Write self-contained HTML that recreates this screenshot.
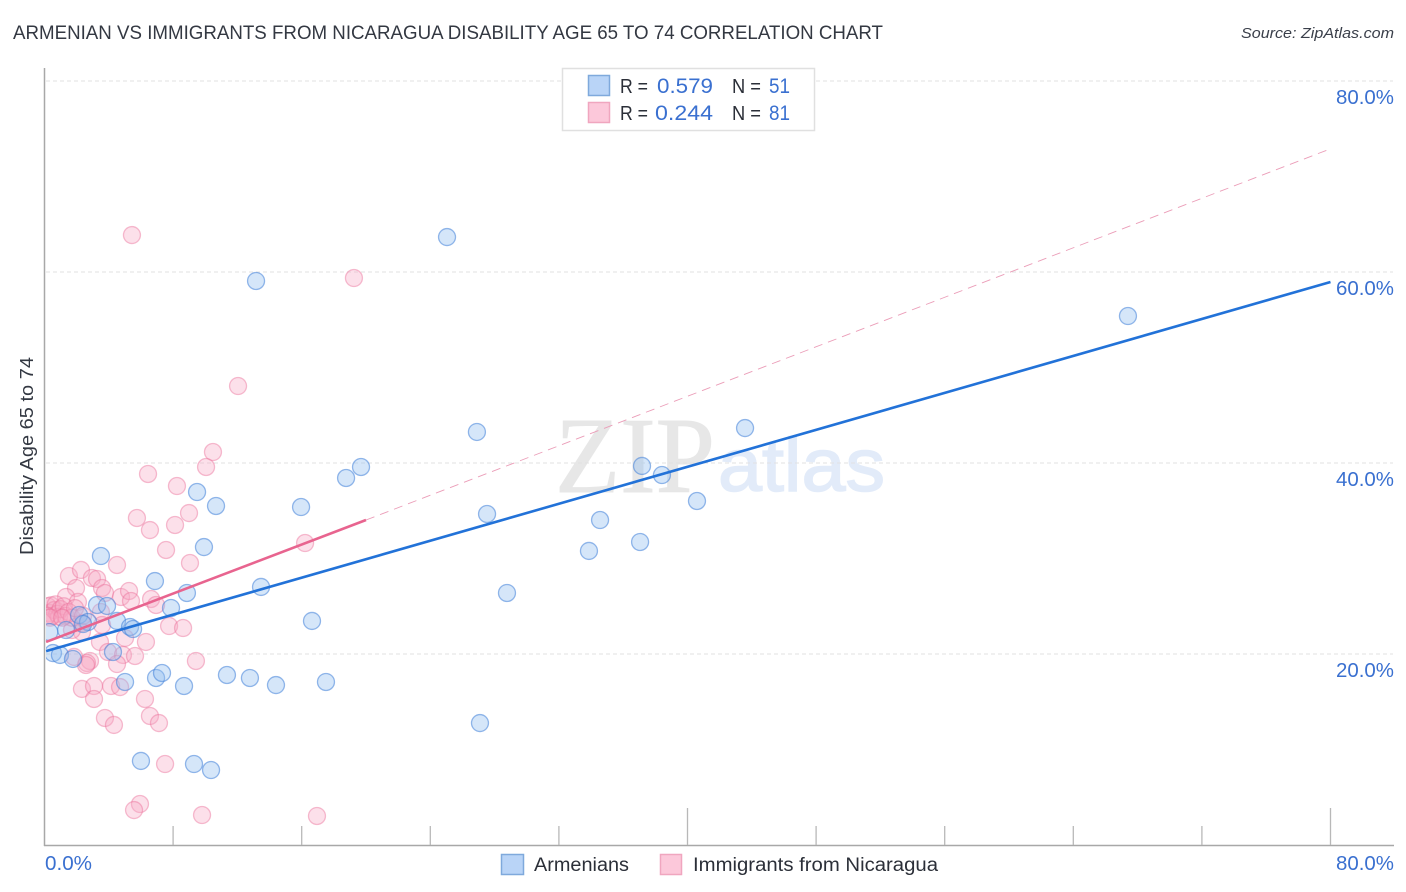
<!DOCTYPE html>
<html lang="en">
<head>
<meta charset="utf-8">
<title>Armenian vs Immigrants from Nicaragua Disability Age 65 to 74 Correlation Chart</title>
<style>
html,body{margin:0;padding:0;background:#fff;width:1406px;height:892px;overflow:hidden}
svg{display:block}
text{font-family:"Liberation Sans",sans-serif}
</style>
</head>
<body>
<svg id="chart" width="1406" height="892" viewBox="0 0 1406 892" xmlns="http://www.w3.org/2000/svg">
  <defs><clipPath id="plot-clip"><rect x="46" y="60" width="1350" height="785"/></clipPath></defs>
  <text x="13" y="39" font-size="19" fill="#333842" textLength="870" lengthAdjust="spacingAndGlyphs">ARMENIAN VS IMMIGRANTS FROM NICARAGUA DISABILITY AGE 65 TO 74 CORRELATION CHART</text>
  <text x="1241" y="38" font-size="15" font-style="italic" fill="#3a3f4a" textLength="153" lengthAdjust="spacingAndGlyphs">Source: ZipAtlas.com</text>
  <text x="555" y="492" font-size="108" fill="#e7e7e7" stroke="#e7e7e7" stroke-width="1" textLength="160" lengthAdjust="spacingAndGlyphs" style="font-family:'Liberation Serif',serif">ZIP</text>
  <text x="718" y="491" font-size="75" fill="#e2ebf9" stroke="#e2ebf9" stroke-width="1.5" textLength="167" lengthAdjust="spacingAndGlyphs" style="font-family:'Liberation Sans',sans-serif">atlas</text>
  <g id="grid"></g>
  <g id="axes"></g>
  <g id="points" clip-path="url(#plot-clip)"></g>
  <g id="trends"></g>
  <text transform="translate(33,456) rotate(-90)" text-anchor="middle" font-size="18.5" fill="#333842" textLength="198" lengthAdjust="spacingAndGlyphs">Disability Age 65 to 74</text>
  <g>
    <rect x="562.5" y="68.5" width="252" height="62" fill="#fff" stroke="#e0e0e0" stroke-width="1.5"/>
    <rect x="588.5" y="75.5" width="21" height="20" fill="#b9d4f7" stroke="#7fa9dc" stroke-width="1.5"/>
    <text x="620" y="93" font-size="20" fill="#2b2f38" textLength="28" lengthAdjust="spacingAndGlyphs">R =</text>
    <text x="657" y="93" font-size="21" fill="#3a70d0" textLength="56" lengthAdjust="spacingAndGlyphs">0.579</text>
    <text x="732" y="93" font-size="20" fill="#2b2f38" textLength="29" lengthAdjust="spacingAndGlyphs">N =</text>
    <text x="769" y="93" font-size="21" fill="#3a70d0" textLength="21" lengthAdjust="spacingAndGlyphs">51</text>
    <rect x="588.5" y="102.5" width="21" height="20" fill="#fcc8da" stroke="#f0a6bf" stroke-width="1.5"/>
    <text x="620" y="120" font-size="20" fill="#2b2f38" textLength="28" lengthAdjust="spacingAndGlyphs">R =</text>
    <text x="655" y="120" font-size="21" fill="#3a70d0" textLength="58" lengthAdjust="spacingAndGlyphs">0.244</text>
    <text x="732" y="120" font-size="20" fill="#2b2f38" textLength="29" lengthAdjust="spacingAndGlyphs">N =</text>
    <text x="769" y="120" font-size="21" fill="#3a70d0" textLength="21" lengthAdjust="spacingAndGlyphs">81</text>
  </g>
  <g>
    <rect x="501.5" y="854.5" width="22" height="20" fill="#b9d4f7" stroke="#7fa9dc" stroke-width="1.5"/>
    <text x="534" y="871" font-size="19" fill="#2b2f38" textLength="95" lengthAdjust="spacingAndGlyphs">Armenians</text>
    <rect x="660.5" y="854.5" width="21" height="20" fill="#fcc8da" stroke="#f0a6bf" stroke-width="1.5"/>
    <text x="693" y="871" font-size="19" fill="#2b2f38" textLength="245" lengthAdjust="spacingAndGlyphs">Immigrants from Nicaragua</text>
  </g>
</svg>
<script>
const blueX = [67.40,25.04,13.16,26.90,43.58,37.17,38.41,40.59,19.69,18.76,27.53,34.56,37.05,33.87,28.77,9.49,10.67,15.96,9.92,3.51,6.87,13.47,8.86,7.87,16.64,3.27,3.89,2.15,2.71,2.40,1.34,4.51,5.32,5.51,4.26,0.53,0.96,1.77,5.01,6.94,7.31,8.68,11.35,12.78,14.40,17.51,27.09,6.00,9.30,10.36,0.30];
const blueY = [55.39,63.66,59.06,43.25,43.66,39.69,38.74,36.02,39.58,38.43,34.66,34.03,31.73,30.79,26.39,36.96,35.50,35.39,31.20,30.26,27.64,27.02,26.39,24.82,23.46,25.13,25.03,24.08,23.35,23.14,22.51,23.46,22.83,22.62,20.21,20.10,19.90,19.48,17.07,17.49,18.01,16.65,17.80,17.49,16.75,17.07,12.77,8.80,8.48,7.85,22.30];
const pinkX = [5.44,19.25,12.04,10.48,10.05,6.44,8.24,5.75,6.56,8.12,8.99,7.56,9.05,4.51,16.21,1.52,2.27,2.95,3.27,1.96,3.58,1.34,2.08,3.76,4.76,5.26,5.38,6.63,6.94,3.51,7.75,8.62,6.31,5.01,3.45,3.95,4.88,5.63,4.51,9.42,2.83,2.64,2.58,1.84,2.33,3.08,4.14,4.70,3.08,6.25,6.56,7.12,3.76,4.32,7.50,5.94,5.57,9.80,16.95,2.33,3.58,2.33,1.71,0.20,0.30,0.40,0.50,0.60,0.70,0.80,0.90,1.00,1.20,1.30,1.50,1.70,1.90,0.15,0.35,2.40,1.10];
const pinkY = [63.87,59.37,48.06,41.15,39.58,38.85,37.59,34.24,32.98,33.51,34.76,30.89,29.53,29.32,31.62,28.17,28.80,27.96,27.85,26.91,26.91,25.97,25.45,26.39,25.97,26.60,25.55,25.76,25.13,24.40,22.93,22.72,21.26,21.68,21.26,20.21,19.90,19.79,18.95,19.27,19.27,19.06,18.85,19.69,16.34,16.65,16.65,16.54,15.29,15.29,13.51,12.77,13.30,12.57,8.48,4.29,3.66,3.14,3.04,23.25,23.04,22.30,22.51,25.00,24.30,25.10,24.00,24.60,25.20,24.20,23.90,24.70,25.00,24.00,24.40,23.80,24.80,24.00,23.80,24.00,23.80];
const blueTrendX = [0.1, 80];
const blueTrendY = [20.3, 58.95];
const pinkTrendX = [0.1, 20];
const pinkTrendY = [21.26, 34.03];
const pinkDashX = [20, 80];
const pinkDashY = [34.03, 72.9];
const yTicks = [20, 40, 60, 80];
const yTickLabels = ["20.0%", "40.0%", "60.0%", "80.0%"];
const xTicks = [8, 16, 24, 32, 40, 48, 56, 64, 72, 80];
const xMajorTicks = [40, 80];
const xEndLabels = ["0.0%", "80.0%"];

const NS = "http://www.w3.org/2000/svg";
const xScale = v => 44.5 + v * 16.075;
const yScale = v => 845 - v * 9.55;

function make(tag, attrs, parent) {
  const el = document.createElementNS(NS, tag);
  for (const k in attrs) el.setAttribute(k, attrs[k]);
  parent.appendChild(el);
  return el;
}

const grid = document.getElementById("grid");
const axes = document.getElementById("axes");
const pts = document.getElementById("points");
const trends = document.getElementById("trends");

yTicks.forEach((t, i) => {
  const line = make("line", {x1: 46, x2: 1393, y1: yScale(t), y2: yScale(t), stroke: "#e2e2e2", "stroke-width": 1, "stroke-dasharray": "4 3"}, grid);
  
  
  const lab = make("text", {x: 1394, y: yScale(t) + 23, "text-anchor": "end", "font-size": 20, fill: "#3a70d0", textLength: 58, lengthAdjust: "spacingAndGlyphs"}, axes);
  lab.textContent = yTickLabels[i];
  
  
});

const yAxis = make("line", {x1: 44.5, x2: 44.5, y1: 68, y2: 846, stroke: "#a8a8a8", "stroke-width": 1.5}, axes);


const xAxis = make("line", {x1: 44, x2: 1394, y1: 845.5, y2: 845.5, stroke: "#a8a8a8", "stroke-width": 1.5}, axes);



xTicks.forEach(t => {
  const top = xMajorTicks.includes(t) ? 808 : 826;
  const tick = make("line", {x1: xScale(t), x2: xScale(t), y1: top, y2: 845, stroke: "#b8b8b8", "stroke-width": 1.3}, axes);
  
  
});

const x0 = make("text", {x: 45, y: 870, "font-size": 20, fill: "#3a70d0", textLength: 47, lengthAdjust: "spacingAndGlyphs"}, axes);
x0.textContent = xEndLabels[0];


const x1 = make("text", {x: 1394, y: 870, "text-anchor": "end", "font-size": 20, fill: "#3a70d0", textLength: 58, lengthAdjust: "spacingAndGlyphs"}, axes);
x1.textContent = xEndLabels[1];



pinkX.forEach((v, i) => {
  const c = make("circle", {cx: xScale(v), cy: yScale(pinkY[i]), r: 8.5, fill: "#f7a8c4", "fill-opacity": 0.36, stroke: "#ea6f9a", "stroke-opacity": 0.45, "stroke-width": 1.3}, pts);
  
  
});
blueX.forEach((v, i) => {
  const c = make("circle", {cx: xScale(v), cy: yScale(blueY[i]), r: 8.5, fill: "#90bdf0", "fill-opacity": 0.38, stroke: "#3f80d8", "stroke-opacity": 0.55, "stroke-width": 1.3}, pts);
  
  
});

const dash = make("line", {x1: xScale(pinkDashX[0]), y1: yScale(pinkDashY[0]), x2: xScale(pinkDashX[1]), y2: yScale(pinkDashY[1]), stroke: "#eb9db8", "stroke-width": 0.9, "stroke-dasharray": "9 6"}, trends);


const pinkLine = make("line", {x1: xScale(pinkTrendX[0]), y1: yScale(pinkTrendY[0]), x2: xScale(pinkTrendX[1]), y2: yScale(pinkTrendY[1]), stroke: "#e8648f", "stroke-width": 2.6}, trends);


const blueLine = make("line", {x1: xScale(blueTrendX[0]), y1: yScale(blueTrendY[0]), x2: xScale(blueTrendX[1]), y2: yScale(blueTrendY[1]), stroke: "#2272d8", "stroke-width": 2.6}, trends);


</script>
</body>
</html>
